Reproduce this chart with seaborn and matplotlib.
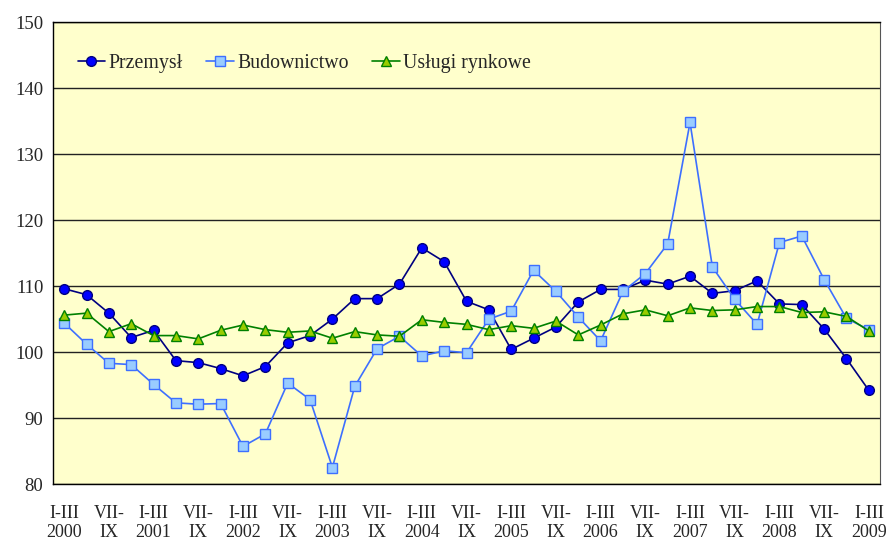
import matplotlib
matplotlib.use("Agg")
import matplotlib.pyplot as plt
import seaborn as sns
import pandas as pd
import numpy as np

# ==========================================
# Dane (kwartalnie, I-III 2000 .. I-III 2009)
# ==========================================
przemysl = [109.6, 108.7, 105.9, 102.2, 103.3, 98.7, 98.4, 97.5, 96.4, 97.8,
            101.4, 102.5, 105.0, 108.1, 108.1, 110.3, 115.8, 113.7, 107.7, 106.4,
            100.4, 102.1, 103.8, 107.6, 109.5, 109.5, 110.9, 110.3, 111.5, 108.9,
            109.3, 110.8, 107.3, 107.2, 103.5, 99.0, 94.2]
budownictwo = [104.4, 101.2, 98.3, 98.1, 95.1, 92.3, 92.1, 92.2, 85.7, 87.6,
               95.3, 92.8, 82.5, 94.8, 100.5, 102.4, 99.4, 100.2, 99.9, 105.0,
               106.2, 112.4, 109.2, 105.3, 101.7, 109.2, 111.9, 116.4, 134.8, 112.9,
               108.0, 104.2, 116.6, 117.6, 111.0, 105.1, 103.4]
uslugi = [105.6, 105.9, 103.1, 104.3, 102.5, 102.5, 102.0, 103.3, 104.1, 103.4,
          103.0, 103.2, 102.1, 103.1, 102.6, 102.4, 104.9, 104.5, 104.2, 103.4,
          104.0, 103.6, 104.7, 102.6, 104.1, 105.8, 106.4, 105.5, 106.7, 106.3,
          106.4, 106.9, 106.9, 106.0, 106.1, 105.4, 103.2]
years = list(range(2000, 2010))
tick_labels = []
for y in years:
    tick_labels.append(f"I-III\n{y}")
    if y < 2009:
        tick_labels.append("VII-\nIX")

df = pd.DataFrame({
    "okres": np.arange(len(przemysl)),
    "Przemysł": przemysl,
    "Budownictwo": budownictwo,
    "Usługi rynkowe": uslugi,
})

sns.set_style("white")
plt.rcParams['font.family'] = ['Liberation Serif', 'DejaVu Serif']

fig, ax = plt.subplots(figsize=(8.88, 5.42), dpi=100)
fig.subplots_adjust(left=0.0597, right=0.991, bottom=0.107, top=0.959)
ax.set_facecolor('#FFFFCC')

styles = {
    "Przemysł": dict(color='#000080', marker='o', markersize=7,
                     markerfacecolor='#0000FF', markeredgecolor='#000080'),
    "Budownictwo": dict(color='#3D6FFF', marker='s', markersize=6.5,
                        markerfacecolor='#99CCFF', markeredgecolor='#3D6FFF'),
    "Usługi rynkowe": dict(color='#008000', marker='^', markersize=7.5,
                           markerfacecolor='#99CC00', markeredgecolor='#008000'),
}
for name, st in styles.items():
    sns.lineplot(data=df, x="okres", y=name, ax=ax, label=name,
                 linewidth=1.2, markeredgewidth=1.0, **st)

ax.set_xlim(-0.5, len(przemysl) - 0.5)
ax.set_ylim(80, 150)
ax.set_yticks(range(80, 151, 10))
ax.yaxis.grid(True, color='#222222', linewidth=1.0)
ax.xaxis.grid(False)
ax.set_axisbelow(True)

ax.set_xticks(np.arange(0, len(przemysl), 2))
ax.set_xticklabels(tick_labels, linespacing=1.15)
ax.set_xticks(np.arange(-0.5, len(przemysl), 1), minor=True)
ax.tick_params(axis='x', which='major', length=0, pad=15, labelsize=13)
ax.tick_params(axis='x', which='minor', length=5, direction='out', color='black')
ax.tick_params(axis='y', length=5, direction='out', labelsize=13.5, color='black', pad=2)
ax.set_xlabel("")
ax.set_ylabel("")

for s in ['left', 'bottom', 'top']:
    ax.spines[s].set_color('black')
    ax.spines[s].set_linewidth(1.0)
ax.spines['right'].set_color('#555555')

ax.legend(loc='upper left', bbox_to_anchor=(0.008, 0.97), ncol=3, frameon=False,
          fontsize=14.3, handlelength=1.4, columnspacing=1.2, handletextpad=0.15)

plt.savefig('out.png', dpi=100)
